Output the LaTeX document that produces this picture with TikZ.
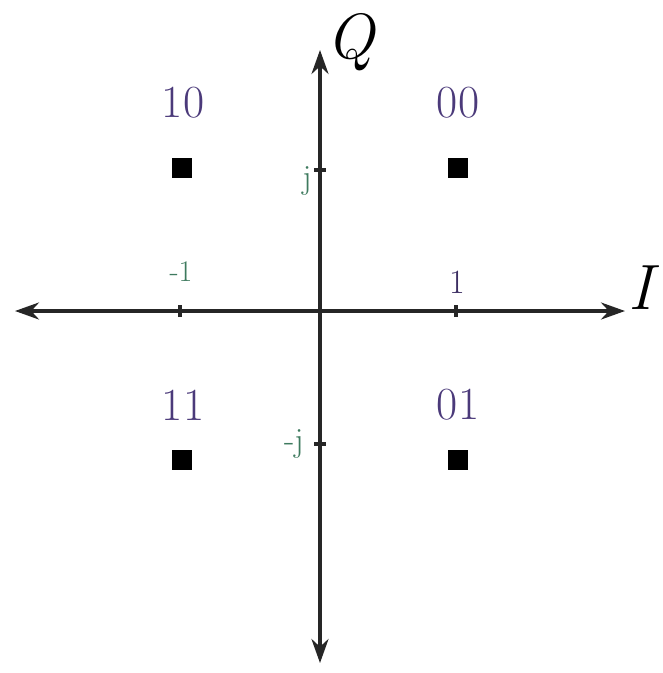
\documentclass[tikz,border=0pt]{standalone}
\usetikzlibrary{arrows.meta}
\definecolor{lblpurple}{HTML}{4B3A7A}
\definecolor{lblgreen}{HTML}{3E7A5E}
\begin{document}
\begin{tikzpicture}[x=1pt,y=-1pt,
  axis/.style={line width=3.4pt,draw=black!85,{Stealth[length=24pt,width=17pt]}-{Stealth[length=24pt,width=17pt]}},
  sym/.style={fill=black,minimum size=20pt,inner sep=0pt},
  bits/.style={text=lblpurple,font=\fontsize{46}{50}\selectfont,inner sep=0pt},
  tlbl/.style={font=\fontsize{34}{38}\selectfont,inner sep=0pt},
  tlblsm/.style={font=\fontsize{30}{34}\selectfont,inner sep=0pt},
  axlbl/.style={font=\fontsize{64}{68}\selectfont\itshape,inner sep=0pt},
  tick/.style={line width=3.4pt,draw=black!85}]
\useasboundingbox (0,0) rectangle (663,673);
\coordinate (L) at (15,311);
\coordinate (R) at (625,311);
\coordinate (T) at (320,50);
\coordinate (B) at (320,663);
\draw[axis] (L) -- (R);
\draw[axis] (B) -- (T);
% ticks
\coordinate (tm1) at (180,311);
\coordinate (tp1) at (456,311);
\coordinate (tj) at (320,170);
\coordinate (tmj) at (320,444);
\draw[tick] ([yshift=-6pt]tm1) -- ([yshift=6pt]tm1);
\draw[tick] ([yshift=-6pt]tp1) -- ([yshift=6pt]tp1);
\draw[tick] ([xshift=-6pt]tj) -- ([xshift=6pt]tj);
\draw[tick] ([xshift=-6pt]tmj) -- ([xshift=6pt]tmj);
% axis labels
\node[axlbl] (Q) at (350,42) {Q};
\node[axlbl] (I) at (641,288) {I};
% tick labels
\node[tlblsm,text=lblgreen] (lm1) at (181,272) {-1};
\node[tlbl,text=lblpurple!80!black] (lp1) at (457,282) {1};
\node[tlbl,text=lblgreen] (lj) at (307,181) {j};
\node[tlbl,text=lblgreen] (lmj) at (294,444) {-j};
% symbols
\node[sym] (s10) at (182,168) {};
\node[sym] (s00) at (458,168) {};
\node[sym] (s11) at (182,460) {};
\node[sym] (s01) at (458,460) {};
\node[bits] (b10) at (183,103) {10};
\node[bits] (b00) at (458,103) {00};
\node[bits] (b11) at (183,405) {11};
\node[bits] (b01) at (458,405) {01};
\end{tikzpicture}
\end{document}
